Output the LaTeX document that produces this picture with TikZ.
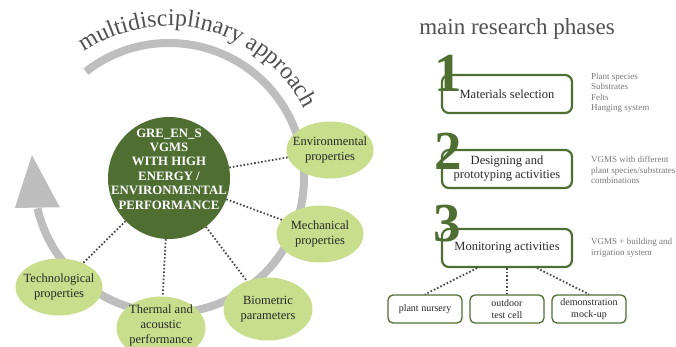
\documentclass[tikz,border=0pt]{standalone}
\usepackage{fontspec}
\setmainfont{Liberation Serif}
\definecolor{gsgreen}{RGB}{78,110,50}
\definecolor{gsleaf}{RGB}{200,222,140}
\definecolor{gsgray}{RGB}{190,190,190}
\definecolor{gsdots}{RGB}{70,70,70}
\definecolor{gsink}{RGB}{40,40,40}
\definecolor{gsnote}{RGB}{120,120,120}
\definecolor{gstitle}{RGB}{80,80,80}
\usetikzlibrary{shapes.geometric,calc,decorations.text}

\begin{document}
\begin{tikzpicture}[x=1pt,y=1pt,
  bubble/.style={ellipse,fill=gsleaf,minimum width=87pt,minimum height=57pt,inner sep=0pt},
  bubbletxt/.style={align=center,text=gsink,font=\fontsize{12.5}{15}\selectfont},
  dots/.style={gsdots,line width=1.8pt,dash pattern=on 1.6pt off 2pt},
  phase/.style={draw=gsgreen,line width=2.2pt,rounded corners=7pt,minimum width=130pt,minimum height=38pt,align=center,text=gsink,font=\fontsize{12.5}{14}\selectfont},
  site/.style={draw=gsgreen,line width=1.3pt,rounded corners=5pt,minimum width=74pt,minimum height=28pt,inner sep=0pt,align=center,text=gsink,font=\fontsize{10}{12}\selectfont},
  digit/.style={anchor=base,inner sep=0pt,text=gsgreen,font=\fontsize{55}{55}\selectfont\bfseries},
  note/.style={anchor=west,align=left,inner sep=0pt,text=gsnote,font=\fontsize{9}{10.5}\selectfont}]
  \useasboundingbox (0,0) rectangle (676,-346);
  % left part: the cycle round the core
  \node[circle,fill=gsgreen,minimum size=122pt,inner sep=0pt] (core) at (169,-178) {};
  \draw[gsgray,line width=8pt] ($(core)+(128:135)$) arc[start angle=128,end angle=-167,radius=135];
  \fill[gsgray] ($(core)+(191:157)$) -- ($(core)+(170.5:139)$) -- ($(core)+(195:113)$) -- cycle;
  \path[decorate,decoration={text along path,text align=center,
    text={|\fontsize{24}{24}\selectfont\color{gstitle}|multidisciplinary approach}}]
    ($(core)+(127:152)$) arc[start angle=127,end angle=24,radius=152];
  \node[bubble] (env) at (330,-150) {};
  \node[bubble] (mech) at (320,-234) {};
  \node[bubble,minimum width=89pt,minimum height=63pt] (bio) at (268,-309) {};
  \node[bubble,minimum width=89pt,minimum height=63pt] (therm) at (161,-328) {};
  \node[bubble] (tech) at (59,-287) {};
  \foreach \t in {env,mech,bio,therm,tech}{\draw[dots] (core) -- (\t);}
  \node[align=center,text=white,font=\fontsize{12.8}{14.4}\selectfont\bfseries] (coretxt) at (169,-169)
    {GRE\_EN\_S\\VGMS\\WITH HIGH\\ENERGY /\\ENVIRONMENTAL\\PERFORMANCE};
  \node[bubbletxt] (envtxt) at (env) {Environmental\\properties};
  \node[bubbletxt] (mechtxt) at (mech) {Mechanical\\properties};
  \node[bubbletxt] (biotxt) at (bio) {Biometric\\parameters};
  \node[bubbletxt] (thermtxt) at (161,-325) {Thermal and\\acoustic\\performance};
  \node[bubbletxt] (techtxt) at (tech) {Technological\\properties};
  % right part: phases
  \node[text=gstitle,font=\fontsize{23}{23}\selectfont] (title) at (517,-29) {main research phases};
  \node[phase] (sel) at (507,-94) {Materials selection};
  \node[phase] (proto) at (507,-169) {Designing and\\prototyping activities};
  \node[phase] (mon) at (507,-248) {Monitoring activities};
  \node[digit] (d1) at (448,-91) {1};
  \node[digit] (d2) at (448,-169) {2};
  \node[digit] (d3) at (447,-241) {3};
  \node[note] (n1) at (591,-93) {Plant species\\Substrates\\Felts\\Hanging system};
  \node[note] (n2) at (591,-170) {VGMS with different\\plant species/substrates\\combinations};
  \node[note] (n3) at (591,-248) {VGMS + building and\\irrigation system};
  \node[site] (nursery) at (425,-309) {plant nursery};
  \node[site] (cell) at (507,-309) {outdoor\\test cell};
  \node[site] (demo) at (589,-309) {demonstration\\mock-up};
  \draw[dots] ([xshift=-30pt]mon.south) -- (nursery.north);
  \draw[dots] (mon) -- (cell);
  \draw[dots] ([xshift=30pt]mon.south) -- (demo.north);
\end{tikzpicture}
\end{document}
